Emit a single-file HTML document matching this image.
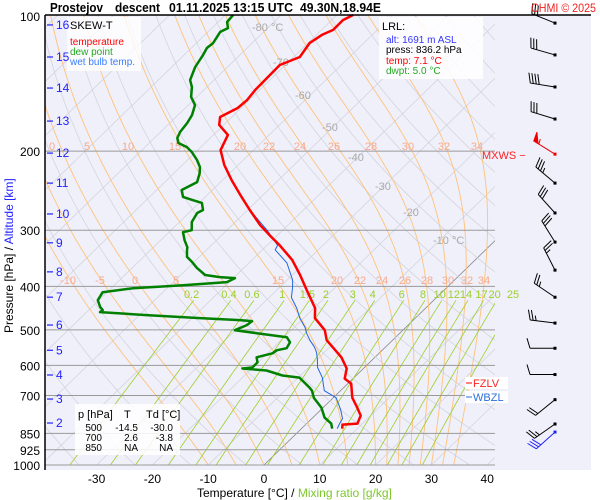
<!DOCTYPE html>
<html><head><meta charset="utf-8">
<style>
body{margin:0;background:#fff;}
svg{display:block;font-family:"Liberation Sans",Arial,sans-serif;}
</style></head>
<body>
<svg id="chart" width="600" height="500" viewBox="0 0 600 500" xmlns="http://www.w3.org/2000/svg">
<defs><clipPath id="pc"><rect x="45" y="15" width="450" height="450"/></clipPath></defs>
<rect x="45" y="15" width="546" height="455" fill="#f0f0fa"/>
<g id="grid" clip-path="url(#pc)"></g>
<g id="plines"></g>
<g id="glabels"></g>
<g>
<rect x="67" y="17" width="74" height="54" fill="#fff" opacity="0.8"/>
<text x="70" y="29" font-size="11">SKEW-T</text>
<text x="70" y="45" font-size="10" fill="#f00">temperature</text>
<text x="70" y="55" font-size="10" fill="#2a2">dew point</text>
<text x="70" y="65" font-size="10" fill="#3a7fff">wet bulb temp.</text>
</g>
<g id="series"></g>
<g id="barbs"></g>
<g id="axes"></g>
<line x1="45" y1="15" x2="591" y2="15" stroke="#000" stroke-width="1.5"/>
<line x1="45" y1="15" x2="45" y2="470" stroke="#000" stroke-width="1.5"/>
<g font-size="13" font-weight="bold">
<text x="50" y="12" textLength="53" lengthAdjust="spacingAndGlyphs">Prostejov</text>
<text x="115" y="12" textLength="45" lengthAdjust="spacingAndGlyphs">descent</text>
<text x="169" y="12" textLength="124" lengthAdjust="spacingAndGlyphs">01.11.2025 13:15 UTC</text>
<text x="300" y="12" textLength="81" lengthAdjust="spacingAndGlyphs">49.30N,18.94E</text>
</g>
<text x="531" y="12" font-size="12" fill="#ee2222" textLength="65" lengthAdjust="spacingAndGlyphs">CHMI © 2025</text>
<g>
<rect x="379" y="17" width="104" height="62" fill="#fff" opacity="0.85"/>
<text x="382" y="30" font-size="11">LRL:</text>
<text x="386" y="43" font-size="10" fill="#33f">alt: 1691 m ASL</text>
<text x="386" y="53" font-size="10">press: 836.2 hPa</text>
<text x="386" y="64" font-size="10" fill="#f00">temp: 7.1 °C</text>
<text x="386" y="74" font-size="10" fill="#2a2">dwpt: 5.0 °C</text>
</g>
<g>
<rect x="75" y="404" width="105" height="51" fill="#fff" opacity="0.85"/>
<text x="78" y="418" font-size="11">p [hPa]</text><text x="124" y="418" font-size="11">T</text><text x="146" y="418" font-size="11">Td [°C]</text>
<g font-size="10" text-anchor="end">
<text x="102" y="431">500</text><text x="138" y="431">-14.5</text><text x="173" y="431">-30.0</text>
<text x="102" y="441">700</text><text x="138" y="441">2.6</text><text x="173" y="441">-3.8</text>
<text x="102" y="451">850</text><text x="138" y="451">NA</text><text x="173" y="451">NA</text>
</g></g>
<text x="482" y="159" font-size="11" fill="#f22">MXWS −</text>
<g><rect x="465" y="377" width="43" height="12" fill="#fff"/><line x1="466" y1="383" x2="472" y2="383" stroke="#f00"/><text x="473" y="387" font-size="11" fill="#f22">FZLV</text></g>
<g><rect x="465" y="391" width="43" height="12" fill="#fff"/><line x1="466" y1="397" x2="472" y2="397" stroke="#2a6fe0"/><text x="473" y="401" font-size="11" fill="#2a6fe0">WBZL</text></g>
<text x="197" y="497" font-size="12">Temperature [°C]  /  <tspan fill="#7cc82a">Mixing ratio [g/kg]</tspan></text>
<text transform="translate(13,333) rotate(-90)" font-size="12">Pressure [hPa]  /  <tspan fill="#22f">Altitude [km]</tspan></text>
</svg>
<script>
const tempP=[99.5,102.1,107.4,110.2,114.9,123.4,128.6,138.9,146.1,153.8,160.3,167.9,174.8,184.0,198.9,214.7,232.0,250.3,270.5,292.1,307.8,324.3,349.3,377.5,408.0,447.3,470.8,500.8,527.4,575.7,609.5,641.9,658.8,708.1,745.0,776.1,808.7,812.8,829.7];
const tempT=[-67.1,-68.0,-67.9,-69.0,-69.7,-68.9,-71.0,-70.9,-70.8,-70.4,-70.6,-72.1,-70.8,-67.4,-65.9,-62.5,-58.4,-54.1,-49.6,-45.0,-41.4,-37.7,-32.8,-28.6,-24.6,-19.8,-18.0,-14.0,-11.8,-6.0,-3.0,-1.5,0.6,3.4,6.1,8.2,9.1,6.6,7.3];
const dewP=[99.5,103.1,106.4,108.5,114.9,117.8,122.1,129.9,138.9,143.9,151.5,157.9,166.2,173.1,181.2,186.9,191.8,195.9,200.9,209.3,216.9,223.8,234.4,244.1,252.9,256.8,260.8,270.5,274.6,287.6,299.9,303.0,315.9,327.6,331.9,344.0,352.9,364.0,377.5,381.5,383.4,391.5,397.6,403.8,412.2,429.5,445.0,451.9,456.6,463.6,470.8,475.7,478.1,488.1,500.8,508.6,519.3,532.8,549.5,555.2,563.9,575.7,590.9,606.4,609.5,615.8,632.0,638.6,672.7,683.3,708.1,745.0,784.1,808.7,829.7];
const dewT=[-88.6,-88.4,-87.1,-87.8,-87.0,-87.2,-86.6,-85.8,-84.3,-82.7,-81.0,-78.8,-77.5,-76.9,-76.5,-75.9,-74.8,-72.5,-70.7,-68.3,-66.5,-65.4,-64.2,-65.5,-64.0,-61.8,-59.5,-58.0,-58.5,-57.8,-56.3,-57.5,-55.7,-53.9,-53.5,-52.2,-50.4,-48.4,-45.6,-42.6,-39.7,-40.4,-47.7,-56.1,-60.8,-60.2,-58.5,-57.5,-57.6,-48.7,-38.6,-31.1,-28.7,-28.9,-30.1,-25.6,-19.5,-18.0,-17.5,-18.9,-19.1,-21.2,-20.1,-20.1,-21.7,-17.0,-13.2,-9.8,-6.1,-5.1,-3.5,-0.3,2.1,4.4,5.5];
const wbP=[270.5,299.9,324.3,331.9,354.7,387.5,401.7,423.6,447.3,470.8,493.2,508.6,527.4,546.6,560.9,582.1,606.4,638.6,683.3,708.1,752.6,788.1,808.7,829.7];
const wbT=[-49.6,-42.8,-38.1,-37.7,-33.2,-29.0,-27.7,-26.0,-23.1,-20.7,-18.1,-16.7,-14.8,-12.7,-11.4,-9.9,-8.4,-5.7,-2.9,0.5,3.5,5.5,5.9,6.4];
const pTicks=[100,200,300,400,500,600,700,850,925,1000];
const tTicks=[-30,-20,-10,0,10,20,30,40];
const altKm=[16,15,14,13,12,11,10,9,8,7,6,5,4,3,2];
const altP=[104.7,123.4,144.7,171.4,202.0,235.6,276.0,320.0,371.4,422.9,487.8,555.2,630.3,713.0,806.3];
const isoT=[-140,-130,-120,-110,-100,-90,-80,-70,-60,-50,-40,-30,-20,-10,0,10,20,30,40];
const thetaK=[220,230,240,250,260,270,280,290,300,310,320,330,340,350,360,370,380,390,400,410,420,430,440,450,460,470,480];
const moistT0=[-10,-5,0,5,10,15,20,22,24,26,28,30,32,34];
const mixW=[0.2,0.4,0.6,1,1.5,2,3,4,6,8,10,12,14,17,20,25];
const barbP=[103.7,122.1,143.9,169.6,203.1,235.6,274.6,318.8,368.1,423.0,482.9,549.5,628.8,715.2,810.4,844.6];
const barbDir=[292,286,279,287,302,310,318,328,333,304,277,270,270,231,235,228];
const barbKt=[30,30,40,30,55,35,30,30,25,25,25,10,10,20,25,30];

const NS="http://www.w3.org/2000/svg";
function Y(p){return 16+195*Math.log(p/100);}
function X(T,p){return 264+5.58*T+1.03*(465-Y(p));}
function mk(tag,attrs,parent){const e=document.createElementNS(NS,tag);for(const k in attrs)e.setAttribute(k,attrs[k]);parent.appendChild(e);return e;}
function pathD(pts){return pts.map((q,i)=>(i?'L':'M')+q[0].toFixed(1)+','+q[1].toFixed(1)).join('');}
const grid=document.getElementById('grid'),pl=document.getElementById('plines'),gl=document.getElementById('glabels'),ser=document.getElementById('series'),bb=document.getElementById('barbs'),ax=document.getElementById('axes');

isoT.forEach(t=>{
  const e=mk('line',{x1:X(t,1050),y1:Y(1050),x2:X(t,90),y2:Y(90),stroke:t===0?'#888':'#d4d4dc','stroke-width':0.8},grid);
  
  
});
thetaK.forEach(th=>{
  const pts=[];for(let p=1050;p>=90;p-=10){pts.push([X(th*Math.pow(p/1000,0.2857)-273.15,p),Y(p)]);}
  const e=mk('path',{d:pathD(pts),fill:'none',stroke:'#d4d4dc','stroke-width':0.8},grid);
  
  
});
function es(Tc){return 6.112*Math.exp(17.67*Tc/(Tc+243.5));}
moistT0.forEach(t0=>{
  let T=t0+273.15;const pts=[[X(t0,1000),Y(1000)]];
  for(let p=1000;p>90;p-=2){
    const e=es(T-273.15),rs=0.622*e/(p-e);
    const dTdp=(287.04*T+2.501e6*rs)/(p*(1005.7+2.501e6*2.501e6*rs*0.622/(287.04*T*T)));
    T-=dTdp*2;pts.push([X(T-273.15,p-2),Y(p-2)]);
  }
  const e=mk('path',{d:pathD(pts),fill:'none',stroke:'#ffc27a','stroke-width':0.9},grid);
  
  
});
function tFromW(w,p){const e=w*p/(622+w),l=Math.log(e/6.112);return 243.5*l/(17.67-l);}
mixW.forEach(w=>{
  const pts=[];for(let p=1050;p>=430;p-=10)pts.push([X(tFromW(w,p),p),Y(p)]);
  const e=mk('path',{d:pathD(pts),fill:'none',stroke:'#9ccf2a','stroke-width':0.8},grid);
  
  
  const lb=mk('text',{x:X(tFromW(w,430),430)-2,y:298,'font-size':11,fill:'#9ccf2a','text-anchor':'middle'},gl);
  lb.textContent=String(w);
  
  
});
pTicks.forEach(p=>{
  if(p>100){const e=mk('line',{x1:45,y1:Y(p),x2:495,y2:Y(p),stroke:'#9a9a9a','stroke-width':1},pl);
  
  }
  const t=mk('text',{x:40,y:Y(p)+5,'font-size':12,'text-anchor':'end'},ax);
  t.textContent=String(p);
  
  
});
tTicks.forEach(T=>{
  const t=mk('text',{x:X(T,1000),y:483,'font-size':12,'text-anchor':'middle'},ax);
  t.textContent=String(T);
  
  
});
altKm.forEach((k,i)=>{
  const y=Y(altP[i]);
  const l=mk('line',{x1:47,y1:y,x2:53,y2:y,stroke:'#22f','stroke-width':1.2},ax);
  
  
  const t=mk('text',{x:56,y:y+4,'font-size':12,fill:'#22f'},ax);
  t.textContent=String(k);
  
  
});
const isoLab=[['-80 °C',252,31],['-70',273,66],['-60',295,99],['-50',322,131],['-40',348,161],['-30',375,190],['-20',403,216],['-10 °C',433,244]];
isoLab.forEach(a=>{const t=mk('text',{x:a[1],y:a[2],'font-size':11,fill:'#aaa'},gl);t.textContent=a[0];
  
  });
const mLab1=[['0',52],['5',87],['10',128],['15',175],['20',240],['22',269],['24',300],['26',334],['28',371],['30',408],['32',444],['34',477]];
mLab1.forEach(a=>{const t=mk('text',{x:a[1],y:150,'font-size':11,fill:'#f7a98c','text-anchor':'middle'},gl);t.textContent=a[0];
  
  });
const mLab2=[['-10',68],['-5',100],['0',135],['5',176],['15',278],['20',337],['22',360],['24',382],['26',405],['28',427],['30',448],['32',467],['34',484]];
mLab2.forEach(a=>{const t=mk('text',{x:a[1],y:284,'font-size':11,fill:'#f7a98c','text-anchor':'middle'},gl);t.textContent=a[0];
  
  });
function series(P,T,color,w,name){
  const pts=P.map((p,i)=>[X(T[i],p),Y(p)]);
  const e=mk('path',{d:pathD(pts),fill:'none',stroke:color,'stroke-width':w,'stroke-linejoin':'round'},ser);
  
  
}
series(wbP,wbT,'#2266dd',1,'wet-bulb-line');
series(dewP,dewT,'#008000',2.5,'dew-point-line');
series(tempP,tempT,'#ff0000',2.5,'temperature-line');
barbP.forEach((p,i)=>{
  const col=i===4?'#e00':(i===barbP.length-1?'#22f':'#000');
  const x0=555,y0=Y(p),a=barbDir[i]*Math.PI/180;
  const ux=Math.sin(a),uy=-Math.cos(a),px=-uy,py=ux;
  const L=25,ex=x0+L*ux,ey=y0+L*uy;
  const g=mk('g',{stroke:col,fill:col,'stroke-width':1},bb);
  
  
  mk('line',{x1:x0,y1:y0,x2:ex,y2:ey},g);
  mk('rect',{x:x0-1.5,y:y0-1.5,width:3,height:3,stroke:'none'},g);
  let kt=barbKt[i],s=0;
  while(kt>=50){const bx=ex-s*ux,by=ey-s*uy;
    mk('path',{d:`M${bx},${by}L${bx+9*px+2*ux},${by+9*py+2*uy}L${bx-5*ux},${by-5*uy}Z`},g);s+=6;kt-=50;}
  while(kt>=10){const bx=ex-s*ux,by=ey-s*uy;
    mk('line',{x1:bx,y1:by,x2:bx+10*px+3*ux,y2:by+10*py+3*uy},g);s+=3;kt-=10;}
  if(kt>=5){const bx=ex-s*ux,by=ey-s*uy;
    mk('line',{x1:bx,y1:by,x2:bx+5*px+1.5*ux,y2:by+5*py+1.5*uy},g);}
});
</script>
</body></html>
